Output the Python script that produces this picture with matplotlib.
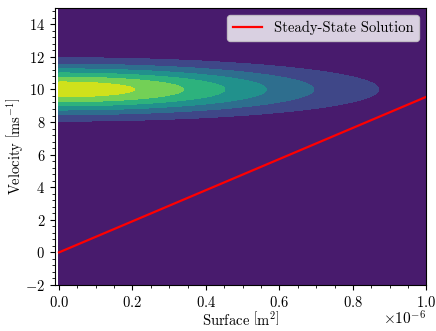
#!/usr/bin/env python3

import numpy as np
import matplotlib
matplotlib.use("Agg")
import matplotlib.pyplot as plt
from matplotlib.ticker import AutoMinorLocator

plt.rcParams["font.family"] = "serif"
plt.rcParams["font.serif"] = ["cmr10"]
plt.rcParams["mathtext.fontset"] = "cm"
plt.rcParams["axes.formatter.use_mathtext"] = True
plt.rcParams["font.size"] = 11

# distribution parameters
surface_max = 1e-6          # m^2
surface_spread = 0.447e-6   # m^2
velocity_center = 10.0      # m/s
velocity_spread = 1.0       # m/s
velocity_range = [-2.0, 15.0]

# steady-state line end points
ss_surface = [0.0, 1e-6]
ss_velocity = [0.0, 9.55]


def main():
    s = np.linspace(0, surface_max, 400)
    v = np.linspace(velocity_range[0], velocity_range[1], 400)
    S, V = np.meshgrid(s, v)
    density = (np.exp(-(V - velocity_center) ** 2 / (2 * velocity_spread ** 2))
               * np.exp(-S ** 2 / (2 * surface_spread ** 2)))

    fig = plt.figure(figsize=(4.36, 3.31), dpi=100)
    ax = fig.add_subplot(111)
    fig.subplots_adjust(left=0.126, right=0.978, top=0.976, bottom=0.139)

    ax.contourf(S, V, density, cmap="viridis")
    ax.plot(ss_surface, ss_velocity, color="red", lw=1.6, label="Steady-State Solution")

    ax.set_xlim(-0.011e-6, 1e-6)
    ax.set_ylim(-2, 15)
    ax.xaxis.set_minor_locator(AutoMinorLocator())
    ax.yaxis.set_minor_locator(AutoMinorLocator(5))
    ax.tick_params(axis="both", labelsize=10.5)
    # keep the x10^-6 multiplier tucked close under the last tick label
    ax.xaxis.OFFSETTEXTPAD = 0

    ax.set_xlabel(r"Surface $\left[\mathrm{m}^2\right]$", fontsize=10.5, labelpad=0)
    ax.set_ylabel(r"Velocity $\left[\mathrm{ms}^{-1}\right]$", fontsize=10.5, labelpad=0)
    ax.legend(loc="upper right", fontsize=10.5)

    fig.savefig("out.png", dpi=100)


if __name__ == "__main__":
    main()
